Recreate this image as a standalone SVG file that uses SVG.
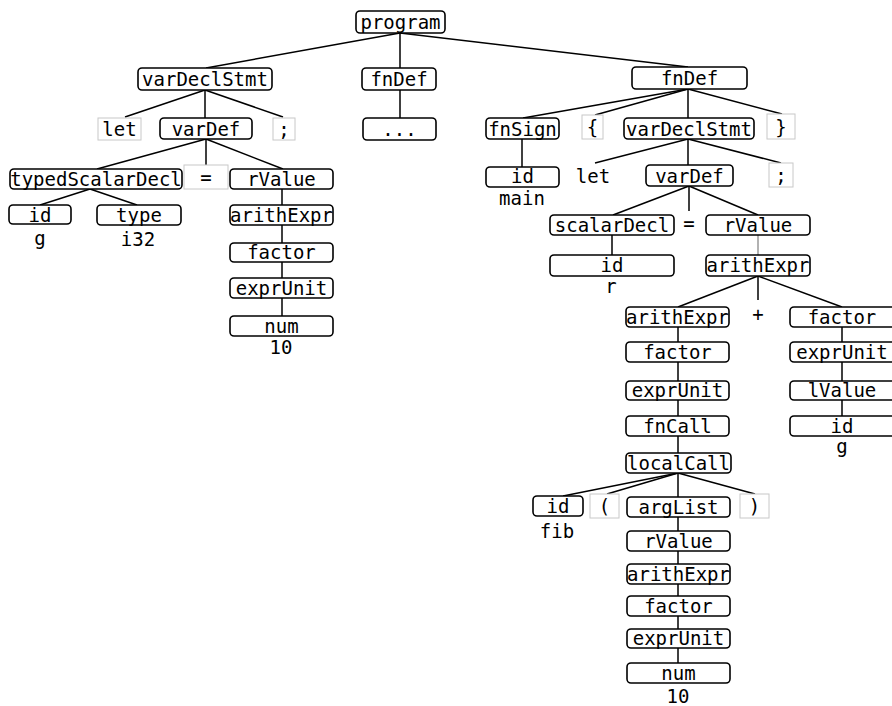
<svg xmlns="http://www.w3.org/2000/svg" width="892" height="706" viewBox="0 0 892 706">
<style>
text{font-family:"DejaVu Sans Mono","Liberation Mono",monospace;font-size:19px;fill:#000;text-anchor:middle}
.n{fill:#fff;stroke:#000;stroke-width:1.6}
.t{fill:#fff;stroke:#c8c8c8;stroke-width:1}
#edges line{stroke:#000;stroke-width:1.5}
#edges line.g{stroke:#999}
</style>
<rect width="892" height="706" fill="#fff"/>
<g id="edges">
<line x1="400" y1="33" x2="206" y2="68"/>
<line x1="400" y1="33" x2="400" y2="68"/>
<line x1="400" y1="33" x2="688" y2="67"/>
<line x1="205" y1="90" x2="125" y2="117"/>
<line x1="205" y1="90" x2="205" y2="118"/>
<line x1="205" y1="90" x2="283" y2="117"/>
<line x1="400" y1="90" x2="400" y2="118"/>
<line x1="206" y1="139" x2="97" y2="169"/>
<line x1="206" y1="139" x2="206" y2="165"/>
<line x1="206" y1="139" x2="283" y2="169"/>
<line x1="90" y1="189" x2="40" y2="205"/>
<line x1="90" y1="189" x2="137" y2="205"/>
<line x1="282" y1="189" x2="282" y2="205"/>
<line x1="282" y1="225" x2="282" y2="243"/>
<line x1="282" y1="262" x2="282" y2="278"/>
<line x1="282" y1="298" x2="282" y2="316"/>
<line x1="688" y1="89" x2="523" y2="118"/>
<line x1="688" y1="89" x2="595" y2="115"/>
<line x1="688" y1="89" x2="688" y2="118"/>
<line x1="688" y1="89" x2="782" y2="114"/>
<line x1="522" y1="139" x2="522" y2="167"/>
<line x1="688" y1="139" x2="595" y2="163"/>
<line x1="688" y1="139" x2="688" y2="165"/>
<line x1="688" y1="139" x2="781" y2="163"/>
<line x1="689" y1="186" x2="613" y2="215"/>
<line x1="689" y1="186" x2="689" y2="211"/>
<line x1="689" y1="186" x2="758" y2="215"/>
<line x1="612" y1="235" x2="612" y2="255"/>
<line class="g" x1="758" y1="235" x2="758" y2="255"/>
<line x1="758" y1="276" x2="678" y2="307"/>
<line x1="758" y1="276" x2="758" y2="300"/>
<line x1="758" y1="276" x2="842" y2="307"/>
<line x1="678" y1="327" x2="678" y2="342"/>
<line x1="678" y1="362" x2="678" y2="381"/>
<line x1="678" y1="400" x2="678" y2="416"/>
<line x1="678" y1="436" x2="678" y2="453"/>
<line x1="842" y1="327" x2="842" y2="342"/>
<line x1="842" y1="362" x2="842" y2="381"/>
<line x1="842" y1="400" x2="842" y2="416"/>
<line x1="678" y1="473" x2="563" y2="496"/>
<line x1="678" y1="473" x2="607" y2="494"/>
<line x1="678" y1="473" x2="678" y2="497"/>
<line x1="678" y1="473" x2="755" y2="494"/>
<line x1="678" y1="517" x2="678" y2="531"/>
<line x1="678" y1="551" x2="678" y2="564"/>
<line x1="678" y1="584" x2="678" y2="596"/>
<line x1="678" y1="616" x2="678" y2="629"/>
<line x1="678" y1="648" x2="678" y2="663"/>
</g>
<g id="program"><rect class="n" x="356" y="11" width="89" height="22" rx="4"/><text x="400.5" y="29">program</text></g>
<g id="varDeclStmt1"><rect class="n" x="138" y="68" width="134" height="22" rx="4"/><text x="205" y="86">varDeclStmt</text></g>
<g id="fnDef1"><rect class="n" x="362" y="68" width="74" height="22" rx="4"/><text x="399" y="86">fnDef</text></g>
<g id="fnDef2"><rect class="n" x="632" y="67" width="115" height="22" rx="4"/><text x="689.5" y="85">fnDef</text></g>
<g id="let1"><rect class="t" x="98" y="118" width="43" height="22"/><text x="119.5" y="136">let</text></g>
<g id="varDef1"><rect class="n" x="160" y="118" width="92" height="21" rx="4"/><text x="206" y="136">varDef</text></g>
<g id="semi1"><rect class="t" x="273" y="118" width="22" height="22"/><text x="284" y="136">;</text></g>
<g id="dots"><rect class="n" x="363" y="118" width="73" height="22" rx="4"/><text x="399.5" y="136">...</text></g>
<g id="fnSign"><rect class="n" x="486" y="118" width="73" height="21" rx="4"/><text x="522.5" y="136">fnSign</text></g>
<g id="lbrace"><rect class="t" x="582" y="115" width="21" height="24"/><text x="592.5" y="134">{</text></g>
<g id="varDeclStmt2"><rect class="n" x="624" y="118" width="130" height="21" rx="4"/><text x="689" y="136">varDeclStmt</text></g>
<g id="rbrace"><rect class="t" x="767" y="114" width="28" height="25"/><text x="781" y="134">}</text></g>
<g id="typedScalarDecl"><rect class="n" x="10" y="169" width="172" height="20" rx="4"/><text x="96" y="186">typedScalarDecl</text></g>
<g id="eq1"><rect class="t" x="184" y="165" width="44" height="24"/><text x="206" y="184">=</text></g>
<g id="rValue1"><rect class="n" x="230" y="169" width="103" height="20" rx="4"/><text x="281.5" y="186">rValue</text></g>
<g id="id_g"><rect class="n" x="9" y="205" width="62" height="19" rx="4"/><text x="40" y="222">id</text><text x="40" y="245">g</text></g>
<g id="type"><rect class="n" x="97" y="205" width="84" height="20" rx="4"/><text x="139" y="222">type</text><text x="138" y="246">i32</text></g>
<g id="arithExpr1"><rect class="n" x="230" y="205" width="103" height="20" rx="4"/><text x="281.5" y="222">arithExpr</text></g>
<g id="factor1"><rect class="n" x="230" y="243" width="103" height="19" rx="4"/><text x="281.5" y="259">factor</text></g>
<g id="exprUnit1"><rect class="n" x="230" y="278" width="103" height="20" rx="4"/><text x="281.5" y="295">exprUnit</text></g>
<g id="num1"><rect class="n" x="230" y="316" width="103" height="20" rx="4"/><text x="281.5" y="333">num</text><text x="281" y="354">10</text></g>
<g id="id_main"><rect class="n" x="486" y="167" width="73" height="20" rx="4"/><text x="522.5" y="183">id</text><text x="522" y="205">main</text></g>
<g id="let2"><text x="593" y="183">let</text></g>
<g id="varDef2"><rect class="n" x="646" y="165" width="87" height="21" rx="4"/><text x="689.5" y="183">varDef</text></g>
<g id="semi2"><rect class="t" x="769" y="163" width="24" height="24"/><text x="781" y="182">;</text></g>
<g id="scalarDecl"><rect class="n" x="550" y="215" width="124" height="20" rx="4"/><text x="612" y="232">scalarDecl</text></g>
<g id="eq2"><text x="689" y="230">=</text></g>
<g id="rValue2"><rect class="n" x="706" y="215" width="104" height="20" rx="4"/><text x="758" y="232">rValue</text></g>
<g id="id_r"><rect class="n" x="550" y="255" width="124" height="21" rx="4"/><text x="612" y="272">id</text><text x="611" y="293">r</text></g>
<g id="arithExpr2"><rect class="n" x="706" y="255" width="104" height="21" rx="4"/><text x="758" y="272">arithExpr</text></g>
<g id="arithExpr3"><rect class="n" x="626" y="307" width="103" height="20" rx="4"/><text x="677.5" y="324">arithExpr</text></g>
<g id="plus"><text x="758" y="321">+</text></g>
<g id="factor2"><rect class="n" x="790" y="307" width="106" height="20" rx="4"/><text x="842" y="324">factor</text></g>
<g id="factor3"><rect class="n" x="626" y="342" width="103" height="20" rx="4"/><text x="677.5" y="359">factor</text></g>
<g id="exprUnit3"><rect class="n" x="790" y="342" width="106" height="20" rx="4"/><text x="842" y="359">exprUnit</text></g>
<g id="exprUnit2"><rect class="n" x="626" y="381" width="103" height="19" rx="4"/><text x="677.5" y="397">exprUnit</text></g>
<g id="lValue"><rect class="n" x="790" y="381" width="106" height="19" rx="4"/><text x="842" y="397">lValue</text></g>
<g id="fnCall"><rect class="n" x="626" y="416" width="103" height="20" rx="4"/><text x="677.5" y="433">fnCall</text></g>
<g id="id_g2"><rect class="n" x="790" y="416" width="106" height="20" rx="4"/><text x="842" y="433">id</text><text x="842" y="453">g</text></g>
<g id="localCall"><rect class="n" x="626" y="453" width="105" height="20" rx="4"/><text x="678.5" y="470">localCall</text></g>
<g id="id_fib"><rect class="n" x="533" y="496" width="50" height="20" rx="4"/><text x="558" y="513">id</text><text x="557" y="538">fib</text></g>
<g id="lparen"><rect class="t" x="590" y="494" width="29" height="24"/><text x="604.5" y="513">(</text></g>
<g id="argList"><rect class="n" x="627" y="497" width="103" height="20" rx="4"/><text x="678.5" y="514">argList</text></g>
<g id="rparen"><rect class="t" x="740" y="494" width="29" height="24"/><text x="754.5" y="513">)</text></g>
<g id="rValue3"><rect class="n" x="627" y="531" width="103" height="20" rx="4"/><text x="678.5" y="548">rValue</text></g>
<g id="arithExpr4"><rect class="n" x="627" y="564" width="103" height="20" rx="4"/><text x="678.5" y="581">arithExpr</text></g>
<g id="factor4"><rect class="n" x="627" y="596" width="103" height="20" rx="4"/><text x="678.5" y="613">factor</text></g>
<g id="exprUnit4"><rect class="n" x="627" y="629" width="103" height="19" rx="4"/><text x="678.5" y="645">exprUnit</text></g>
<g id="num2"><rect class="n" x="627" y="663" width="103" height="20" rx="4"/><text x="678.5" y="680">num</text><text x="678" y="703">10</text></g>
</svg>
